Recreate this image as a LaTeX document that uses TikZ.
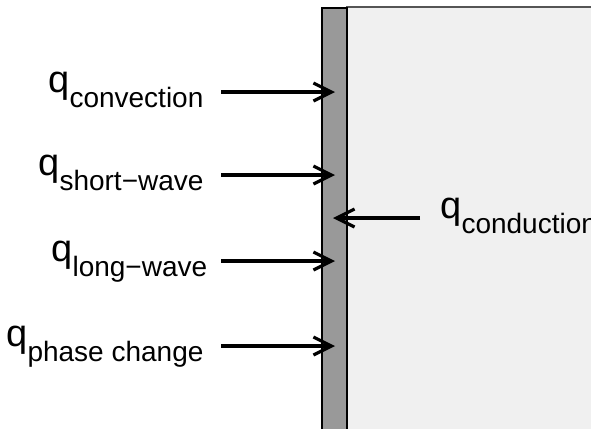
\documentclass[tikz,border=0pt]{standalone}
\usepackage{fontspec}
\setmainfont{Liberation Sans}
\usetikzlibrary{arrows.meta}
\definecolor{wallgray}{HTML}{999999}
\definecolor{roomgray}{HTML}{F0F0F0}
\definecolor{edgegray}{HTML}{555555}
\newcommand{\qlab}[1]{{\fontsize{38bp}{44bp}\selectfont q}\raisebox{-15bp}{\fontsize{28bp}{32bp}\selectfont #1}}
\tikzset{
  flux/.style={line width=3.2bp, -{Straight Barb[length=18bp,width=18bp]}},
  qlabel/.style={anchor=base west, inner sep=0pt, outer sep=0pt}
}
\begin{document}
\begin{tikzpicture}[x=1bp,y=-1bp]
\useasboundingbox (0,0) rectangle (591,428);
\clip (0,0) rectangle (591,428);
% interior region and wall
\fill[roomgray] (346,7) rectangle (600,440);
\draw[edgegray, line width=2bp] (346,7) -- (600,7);
\node[fill=wallgray, draw=black, line width=1.5bp, minimum width=25bp, minimum height=440bp, inner sep=0pt, anchor=north west] (wall) at (321,7) {};
% labels
\node[qlabel] (lconv) at (48.4,92) {\qlab{convection}};
\node[qlabel] (lshort) at (38.4,175) {\qlab{short−wave}};
\node[qlabel] (llong) at (51.4,261) {\qlab{long−wave}};
\node[qlabel] (lphase) at (6.4,346) {\qlab{phase change}};
\node[qlabel] (lcond) at (440.4,218) {\qlab{conduction}};
% arrow endpoints
\coordinate (s1) at (221,92);  \coordinate (e1) at (335,92);
\coordinate (s2) at (221,175); \coordinate (e2) at (335,175);
\coordinate (s3) at (221,261); \coordinate (e3) at (335,261);
\coordinate (s4) at (221,346); \coordinate (e4) at (335,346);
\coordinate (s5) at (420,218); \coordinate (e5) at (333,218);
\draw[flux] (s1) -- (e1);
\draw[flux] (s2) -- (e2);
\draw[flux] (s3) -- (e3);
\draw[flux] (s4) -- (e4);
\draw[flux] (s5) -- (e5);
\end{tikzpicture}
\end{document}
